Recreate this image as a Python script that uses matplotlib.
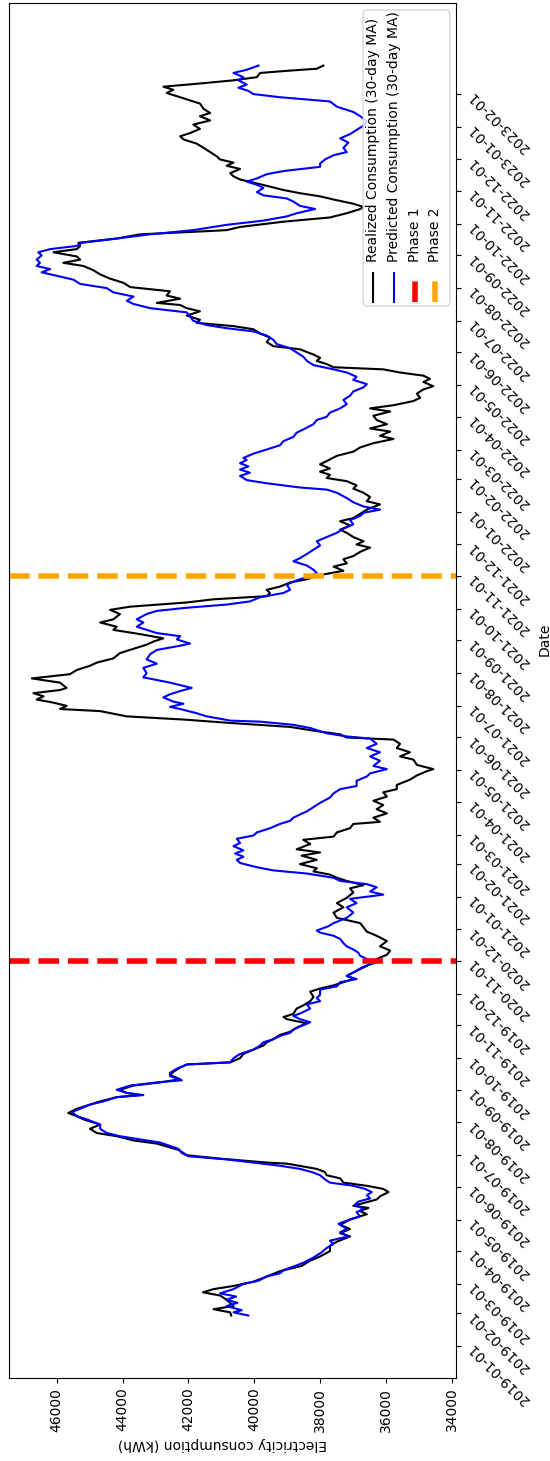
import numpy as np
import pandas as pd
import matplotlib
matplotlib.use('Agg')
import matplotlib.pyplot as plt
from matplotlib.lines import Line2D
from matplotlib.patches import FancyBboxPatch

# daily rows: all of 2019, then Nov 2020 - Feb 2023 (nothing in between)
dates = pd.date_range('2019-01-01', '2019-12-31').append(pd.date_range('2020-11-01', '2023-02-28'))

# row number in the daily series -> 30-day moving average (kWh)
realized_day = [29, 32, 35, 38, 41, 45, 48, 51, 54, 57, 61, 66, 71, 76, 81, 85, 90, 95, 99, 104,
                107, 111, 115, 120, 125, 128, 131, 133, 139, 142, 146, 149, 152, 155, 159, 162, 165, 168, 173, 174,
                178, 181, 186, 192, 195, 199, 202, 206, 210, 215, 218, 221, 225, 228, 232, 236, 238, 240, 243, 247,
                250, 253, 257, 260, 264, 267, 269, 273, 277, 281, 285, 288, 291, 295, 298, 302, 306, 310, 312, 315,
                320, 323, 327, 331, 336, 339, 342, 345, 348, 351, 355, 359, 362, 364, 367, 371, 375, 379, 384, 389,
                393, 397, 401, 406, 411, 416, 420, 425, 430, 434, 437, 441, 444, 447, 450, 453, 457, 461, 465, 468,
                471, 476, 480, 483, 487, 491, 495, 497, 501, 505, 509, 513, 517, 521, 525, 528, 532, 537, 541, 545,
                547, 551, 556, 559, 563, 567, 571, 575, 577, 580, 583, 587, 591, 594, 597, 602, 604, 607, 610, 613,
                616, 619, 622, 624, 629, 633, 637, 641, 645, 648, 652, 657, 661, 665, 668, 671, 675, 679, 682, 686,
                689, 694, 698, 701, 705, 708, 711, 714, 717, 720, 724, 727, 731, 735, 739, 742, 746, 749, 753, 757,
                760, 763, 767, 771, 774, 778, 782, 785, 789, 793, 798, 801, 805, 809, 813, 816, 820, 823, 826, 829,
                832, 836, 839, 844, 848, 852, 856, 860, 863, 867, 870, 874, 878, 882, 886, 889, 892, 896, 899, 903,
                907, 910, 914, 917, 920, 923, 926, 928, 931, 934, 937, 940, 945, 948, 952, 956, 960, 964, 967, 970,
                973, 977, 981, 984, 987, 989, 993, 996, 1000, 1004, 1008, 1012, 1016, 1020, 1024, 1027, 1030, 1033, 1037,
                1040, 1043, 1046, 1050, 1054, 1057, 1058, 1061, 1066, 1070, 1074, 1078, 1080, 1083, 1087, 1090, 1093, 1096,
                1100, 1103, 1106, 1109, 1112, 1116, 1119, 1122, 1125, 1128, 1132, 1136, 1140, 1144, 1147, 1150, 1154, 1158,
                1162, 1166, 1169, 1173, 1178, 1181, 1185, 1188, 1191, 1194, 1197, 1200, 1203, 1207, 1209, 1211, 1214]
realized_kwh = [40700, 40730, 41240, 40630, 40730, 40890, 41040, 41560, 41240, 40630, 40030, 39620, 39220, 38560, 38300, 38000, 37700, 37700, 37490, 37090,
                37390, 37090, 37390, 37090, 36580, 36790, 36530, 36990, 36280, 36180, 35920, 36080, 36580, 37290, 37390, 37800, 37850, 38100, 39010, 39620,
                41140, 42050, 42300, 42960, 43670, 44180, 44780, 44990, 44680, 45190, 45390, 45650, 45390, 45090, 44680, 44180, 43470, 43870, 44080, 43670,
                42860, 42250, 42560, 42460, 42250, 42050, 40730, 40430, 40330, 40030, 39720, 39620, 39420, 39220, 38910, 38710, 38400, 39010, 39110, 38810,
                38710, 38510, 38300, 38200, 38300, 38000, 37590, 37290, 36990, 37190, 36940, 36680, 36480, 36280, 36280, 35970, 35870, 36180, 35970, 36280,
                36580, 36680, 36780, 37490, 37590, 37290, 37490, 37190, 36990, 37090, 36680, 37190, 37490, 37700, 38200, 38100, 38610, 38100, 38560, 38000,
                38710, 38300, 38510, 37590, 37490, 37090, 36990, 36180, 36380, 35970, 36280, 36080, 36380, 35970, 36080, 35670, 35670, 35270, 35060, 34760,
                34560, 35060, 35160, 35570, 35270, 35670, 35570, 35770, 37190, 37390, 38100, 38910, 40840, 42150, 43870, 44680, 45900, 45700, 46100, 46610,
                46400, 46710, 45900, 45700, 45900, 46760, 45600, 45390, 44990, 44780, 44280, 44080, 43670, 43270, 43060, 42760, 43470, 44280, 44180, 44680,
                44280, 44080, 44380, 43770, 42050, 41240, 39620, 39520, 39620, 39220, 38910, 38400, 38000, 37290, 37590, 37190, 37290, 36990, 36780, 36480,
                36890, 36680, 36990, 37190, 37390, 37090, 37390, 36990, 36780, 36580, 36180, 36580, 36480, 36680, 36990, 36890, 37190, 37800, 37700, 38000,
                37700, 38000, 37800, 37490, 36990, 36780, 36380, 35770, 36180, 35870, 36480, 35970, 36280, 36380, 35870, 36480, 35770, 35160, 34960, 35060,
                34860, 34560, 34860, 34660, 34860, 35570, 36080, 37590, 37800, 38100, 38000, 38200, 38610, 39420, 39620, 39520, 39820, 40030, 40630, 41750,
                41650, 42050, 41650, 42050, 42250, 42960, 42250, 42660, 42560, 43770, 43970, 44380, 44680, 44890, 45190, 45800, 45290, 45390, 46100,
                45390, 45290, 45340, 44180, 43470, 41440, 40840, 40430, 39110, 37700, 37190, 36780, 36680, 36990, 37590, 38000, 38610, 39110,
                39620, 40030, 40430, 40630, 40730, 40430, 40840, 40630, 41040, 41140, 41340, 41540, 41750, 42150, 42250, 41950, 41650, 41850,
                41340, 41650, 41340, 41540, 41650, 41950, 42350, 42660, 42460, 42760, 41650, 40630, 39920, 39820, 39010, 38100, 37900]

predicted_day = [29, 32, 34, 38, 41, 44, 47, 50, 54, 59, 62, 66, 69, 72, 76, 79, 84, 89, 93, 97,
                 100, 104, 108, 111, 116, 120, 123, 127, 130, 134, 137, 140, 143, 146, 149, 152, 155, 158, 162, 165,
                 168, 171, 174, 177, 180, 183, 187, 193, 196, 199, 202, 206, 210, 215, 218, 222, 225, 229, 232, 236,
                 238, 240, 243, 247, 250, 252, 256, 259, 263, 267, 269, 273, 277, 281, 285, 288, 291, 294, 297, 300,
                 303, 307, 310, 313, 316, 320, 324, 327, 330, 333, 338, 341, 345, 348, 351, 355, 359, 362, 364, 367,
                 370, 373, 376, 379, 382, 386, 389, 392, 394, 398, 401, 406, 411, 416, 420, 424, 428, 431, 435, 438,
                 441, 444, 448, 451, 454, 458, 461, 464, 467, 470, 474, 477, 481, 484, 487, 491, 495, 498, 501, 504,
                 507, 511, 515, 520, 524, 528, 531, 536, 540, 543, 547, 550, 555, 559, 563, 567, 571, 576, 578, 581,
                 586, 589, 592, 593, 597, 600, 604, 606, 609, 611, 615, 618, 621, 624, 629, 634, 638, 643, 647, 651,
                 656, 660, 664, 666, 670, 673, 676, 679, 682, 686, 689, 694, 697, 700, 703, 706, 710, 714, 717, 722,
                 726, 730, 733, 736, 740, 744, 747, 751, 755, 759, 763, 767, 771, 775, 779, 783, 787, 790, 793, 796,
                 800, 804, 809, 812, 814, 818, 821, 825, 828, 831, 834, 837, 840, 842, 846, 850, 854, 858, 862, 866,
                 869, 874, 878, 881, 885, 889, 893, 897, 901, 905, 909, 912, 916, 919, 923, 926, 930, 934, 938, 942,
                 946, 950, 954, 958, 962, 965, 968, 972, 976, 980, 984, 988, 991, 995, 999, 1003, 1007, 1011, 1014, 1018,
                 1021, 1024, 1027, 1030, 1034, 1037, 1040, 1043, 1046, 1050, 1054, 1058, 1063, 1067, 1071, 1074, 1078, 1081, 1085, 1088,
                 1091, 1094, 1098, 1101, 1104, 1107, 1111, 1114, 1118, 1121, 1125, 1129, 1132, 1136, 1141, 1145, 1149, 1153, 1157, 1161,
                 1166, 1170, 1175, 1180, 1184, 1187, 1190, 1193, 1196, 1200, 1203, 1207, 1210, 1214]
predicted_kwh = [40180, 40630, 40380, 40840, 40510, 40840, 40550, 41040, 40630, 40330, 39870, 39620, 39220, 39110, 38760, 38510, 38200, 37950, 37800, 37600,
                 37700, 37140, 37390, 37190, 37440, 37090, 36790, 36890, 36680, 36940, 36840, 36480, 36580, 36430, 36630, 36990, 37700, 37850, 38000, 38250,
                 38610, 39220, 40030, 40840, 42000, 42200, 42300, 42860, 43470, 44080, 44480, 44680, 44680, 45090, 45390, 45540, 45290, 44990, 44580, 44180,
                 43370, 43870, 44180, 43770, 42960, 42200, 42560, 42560, 42350, 42050, 40730, 40630, 40430, 40030, 39820, 39720, 39420, 39220, 38910, 38810,
                 38610, 38300, 38610, 38810, 38560, 38300, 38400, 38000, 38100, 38000, 38000, 37490, 37390, 36890, 37190, 36940, 36730, 36480, 36300, 36580,
                 36780, 36840, 36990, 37190, 37290, 37390, 37590, 38000, 38100, 37750, 37590, 37190, 36990, 37190, 36890, 37090, 36080, 36480, 36280, 36580,
                 37390, 37590, 38400, 39420, 39920, 40430, 40530, 40330, 40580, 40330, 40630, 40430, 40530, 40030, 39920, 39520, 39220, 38910, 38810, 38610,
                 38400, 38200, 38000, 37700, 37590, 37390, 36890, 36890, 36580, 36480, 35970, 36380, 36180, 36480, 36180, 36580, 36280, 36480, 37190, 37800,
                 38300, 38810, 39820, 40730, 41440, 41750, 42250, 42560, 42150, 42460, 42760, 42560, 42250, 41900, 42560, 43370, 43270, 43370, 42960, 43270,
                 43160, 42960, 42250, 41950, 42350, 42250, 42960, 43270, 43570, 43370, 43570, 43270, 42960, 42050, 40840, 40130, 39820, 39110, 38910, 39010,
                 38710, 38300, 38100, 38200, 38400, 38810, 38610, 38400, 38200, 38000, 38100, 37800, 37490, 37290, 36990, 37090, 36780, 36680, 36180, 36680,
                 36990, 37190, 37490, 37800, 38610, 39620, 40230, 40430, 40130, 40430, 40180, 40430, 40230, 40330, 40030, 39620, 39220, 39110, 38810, 38710,
                 38510, 38200, 38100, 37800, 37700, 37390, 37190, 37290, 37090, 36990, 36680, 36580, 36990, 36890, 37190, 37590, 38200, 38400, 38510, 38710,
                 38910, 39320, 39420, 39620, 40030, 40840, 41440, 41850, 41950, 42050, 43160, 43670, 43870, 43670, 44280, 44480, 45290, 45490, 45900, 46460,
                 46200, 46610, 46510, 46610, 46460, 46560, 46200, 45390, 45240, 44180, 43160, 41850, 40840, 39720, 39010, 38710, 38150, 38610, 38810, 39010,
                 39720, 39920, 39720, 39920, 40230, 39920, 39620, 39110, 38000, 38000, 37850, 37590, 37190, 37290, 37140, 37390, 37090, 36890, 36680, 36580,
                 36780, 36990, 37490, 37700, 39220, 40030, 40180, 40480, 40230, 40480, 40330, 40630, 40230, 39870]

phase_dates = ['2020-11-01', '2021-11-01']
phase_names = ['Phase 1', 'Phase 2']
phase_colors = ['red', 'orange']

series_names = ['Realized Consumption (30-day MA)', 'Predicted Consumption (30-day MA)']
series_colors = ['black', 'blue']

fig = plt.figure(figsize=(5.5, 14.61), dpi=100)
ax = fig.add_axes([0.0164, 0.0568, 0.8127, 0.9411])

# time runs up the page, consumption runs right-to-left
ax.plot(realized_kwh, realized_day, color=series_colors[0], lw=1.5)
ax.plot(predicted_kwh, predicted_day, color=series_colors[1], lw=1.5)

for d, c in zip(phase_dates, phase_colors):
    ax.axhline(dates.get_loc(pd.Timestamp(d)), color=c, linestyle='--', lw=4)

month_pos = np.where(dates.day == 1)[0]
ax.set_yticks(month_pos)
ax.set_yticklabels(dates[month_pos].strftime('%Y-%m-%d'), rotation=135)
ax.yaxis.tick_right()
ax.yaxis.set_label_position('right')
ax.set_ylabel('Date')
ax.yaxis.label.set_y(0.537)

ax.set_xticks(np.arange(34000, 46001, 2000))
ax.tick_params(axis='x', labelrotation=90)
ax.set_xlabel('Electricity consumption (kWh)', rotation=180)
ax.xaxis.label.set_x(0.4765)

ax.set_xlim(47450, 33870)
ax.set_ylim(-30.25, 1273.25)

# legend box, laid out sideways
box = FancyBboxPatch((0.792, 0.7796), 0.1946, 0.2153, boxstyle='round,pad=0,rounding_size=0.006',
                     transform=ax.transAxes, facecolor='white', edgecolor='0.8', alpha=0.8, zorder=5)
ax.add_patch(box)
entry_x = [0.8154, 0.8624, 0.9083, 0.9541]
entry_labels = series_names + phase_names
entry_colors = series_colors + phase_colors
entry_lw = [1.5, 1.5, 4, 4]
entry_ls = ['-', '-', '--', '--']
for x, lab, c, lw, ls in zip(entry_x, entry_labels, entry_colors, entry_lw, entry_ls):
    ax.add_line(Line2D([x, x], [0.7825, 0.8036], color=c, lw=lw, linestyle=ls,
                       transform=ax.transAxes, zorder=6))
    ax.text(x, 0.8116, lab, rotation=90, ha='center', va='bottom',
            transform=ax.transAxes, fontsize=10, zorder=6)

fig.savefig('out.png', dpi=100)
